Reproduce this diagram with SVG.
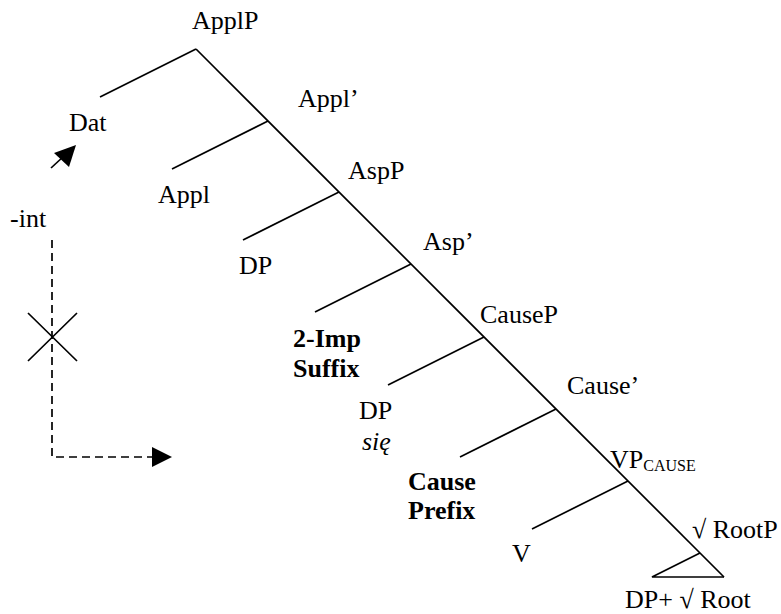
<svg xmlns="http://www.w3.org/2000/svg" width="781" height="614" viewBox="0 0 781 614">
<style>
text{font-family:"Liberation Serif","DejaVu Serif Condensed","DejaVu Serif",serif;font-stretch:condensed;font-size:26px;fill:#000}
.b{font-weight:bold}
.i{font-style:italic}
.sub{font-size:16px}
.ln{stroke:#000;stroke-width:1.7;fill:none}
.dash{stroke:#000;stroke-width:1.7;fill:none;stroke-dasharray:8 5}
</style>
<rect width="781" height="614" fill="#fff"/>
<g id="connectors">
<path class="ln" d="M196,49 L724,577"/>
<path class="ln" d="M196,49 L100,97"/>
<path class="ln" d="M268,121 L172,169"/>
<path class="ln" d="M339,192 L243,240"/>
<path class="ln" d="M411,264 L315,312"/>
<path class="ln" d="M484,337 L388,385"/>
<path class="ln" d="M556,409 L460,457"/>
<path class="ln" d="M628,481 L532,529"/>
<path class="ln" d="M700,553 L652,577 L724,577"/>
</g>
<g id="dat-arrow">
<path class="ln" d="M51,168 L64,156"/>
<polygon points="76,145 54,153 69,167" fill="#000"/>
</g>
<g id="int-path">
<path class="dash" d="M52,240 L52,457 L152,457"/>
<polygon points="152,447 172,457 152,467" fill="#000"/>
<path class="ln" d="M28,313 L77,361 M77,313 L28,361"/>
</g>
<g id="n-ApplP"><text x="192" y="29">ApplP</text></g>
<g id="n-Dat"><text x="69" y="131">Dat</text></g>
<g id="n-Appl1"><text x="298" y="107">Appl’</text></g>
<g id="n-Appl"><text x="158" y="203">Appl</text></g>
<g id="n-AspP"><text x="348" y="179">AspP</text></g>
<g id="n-int"><text x="10" y="227">-int</text></g>
<g id="n-DP1"><text x="239" y="274">DP</text></g>
<g id="n-Asp1"><text x="423" y="250">Asp’</text></g>
<g id="n-Suffix"><text class="b" x="293" y="347">2-Imp</text><text class="b" x="293" y="377">Suffix</text></g>
<g id="n-CauseP"><text x="480" y="323">CauseP</text></g>
<g id="n-DP2"><text x="359" y="419">DP</text><text class="i" x="362" y="450">się</text></g>
<g id="n-Cause1"><text x="567" y="394">Cause’</text></g>
<g id="n-Prefix"><text class="b" x="408" y="490">Cause</text><text class="b" x="408" y="519">Prefix</text></g>
<g id="n-VPcause"><text x="610" y="468">VP<tspan class="sub" dy="3">CAUSE</tspan></text></g>
<g id="n-V"><text x="512" y="562">V</text></g>
<g id="n-RootP"><text x="692" y="538">√ RootP</text></g>
<g id="n-Root"><text x="625" y="608">DP+ √ Root</text></g>
</svg>
